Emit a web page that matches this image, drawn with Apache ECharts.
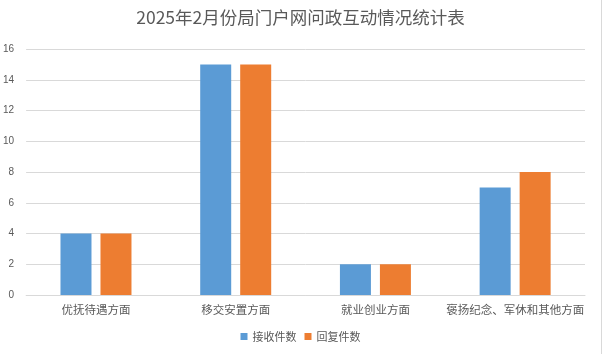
<!DOCTYPE html>
<html>
<head>
<meta charset="utf-8">
<script src="https://cdn.jsdelivr.net/npm/echarts@6/dist/echarts.min.js"></script>
<style>
  html, body { margin: 0; padding: 0; background: #fff; }
  #chart { width: 602px; height: 354px; box-sizing: border-box; border-right: 1px solid #d9d9d9; }
</style>
</head>
<body>
<div id="chart"></div>
<script>
const categories = ['优抚待遇方面', '移交安置方面', '就业创业方面', '褒扬纪念、军休和其他方面']
const received = [4, 15, 2, 7]
const replied = [4, 15, 2, 8]
const yTicks = [0, 16, 2]  // min, max, step

const font = '"Noto Sans CJK SC", "Microsoft YaHei", sans-serif'
const chart = echarts.init(document.getElementById('chart'))
const option = {
  animation: false,
  title: {
    text: '2025年2月份局门户网问政互动情况统计表',
    left: 'center',
    top: 4,
    textStyle: { fontSize: 17.5, fontWeight: 'normal', color: '#595959', fontFamily: font }
  },
  legend: {
    bottom: 7,
    itemWidth: 7,
    itemHeight: 7,
    itemGap: 8,
    icon: 'rect',
    textStyle: { fontSize: 11, color: '#595959', fontFamily: font }
  },
  grid: { left: 25, right: 16, top: 49, bottom: 59 },
  xAxis: {
    type: 'category',
    data: categories,
    axisLine: { lineStyle: { color: '#d9d9d9' } },
    axisTick: { show: false },
    axisLabel: { interval: 0, fontSize: 11.5, color: '#595959', fontFamily: font, margin: 9 }
  },
  yAxis: {
    type: 'value',
    min: yTicks[0],
    max: yTicks[1],
    interval: yTicks[2],
    axisLabel: { fontSize: 10, color: '#595959', margin: 12 },
    splitLine: { lineStyle: { color: '#d9d9d9' } }
  },
  series: [
    {
      name: '接收件数',
      type: 'bar',
      data: received,
      barWidth: 31,
      barGap: '29%',
      itemStyle: { color: '#5B9BD5' }
    },
    {
      name: '回复件数',
      type: 'bar',
      data: replied,
      barWidth: 31,
      itemStyle: { color: '#ED7D31' }
    }
  ]
}
chart.setOption(option)
</script>
</body>
</html>
